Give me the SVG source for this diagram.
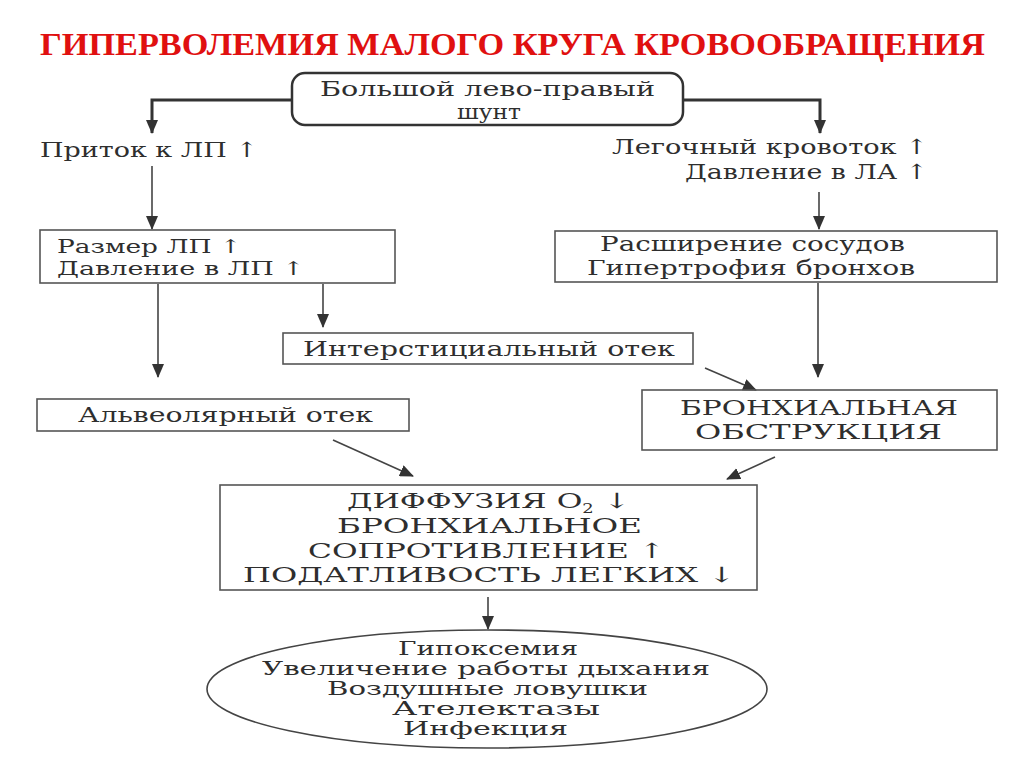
<svg xmlns="http://www.w3.org/2000/svg" width="1024" height="767" viewBox="0 0 1024 767">
<defs>
<marker id="ah" markerUnits="userSpaceOnUse" markerWidth="14" markerHeight="12" viewBox="0 0 14 12" refX="13" refY="6" orient="auto">
<path d="M0,0 L14,6 L0,12 Z" fill="#333"/>
</marker>
<style>
.t{font-family:"DejaVu Serif","Liberation Serif",serif;font-size:21px;fill:#2e2e2e;}
.s{font-family:"DejaVu Serif","Liberation Serif",serif;font-size:19px;fill:#2e2e2e;}
.c{font-family:"DejaVu Serif","Liberation Serif",serif;font-size:21px;fill:#2e2e2e;}
.e{font-family:"DejaVu Serif","Liberation Serif",serif;font-size:18px;fill:#2e2e2e;}
.box{fill:none;stroke:#555;stroke-width:1.6;}
.thick{fill:none;stroke:#333;stroke-width:3;}
.thin{fill:none;stroke:#444;stroke-width:1.6;}
</style>
</defs>
<rect width="1024" height="767" fill="#ffffff"/>
<text x="40" y="55" font-family="Liberation Serif, DejaVu Serif, serif" font-size="32" font-weight="bold" fill="#e01010" textLength="945" lengthAdjust="spacingAndGlyphs">ГИПЕРВОЛЕМИЯ МАЛОГО КРУГА КРОВООБРАЩЕНИЯ</text>

<g id="connectors">
<path class="thick" d="M292,100 H152 V133" marker-end="url(#ah)"/>
<path class="thick" d="M683,100 H820 V133" marker-end="url(#ah)"/>
<path class="thin" d="M152,166 V229" marker-end="url(#ah)"/>
<path class="thin" d="M819,192 V229" marker-end="url(#ah)"/>
<path class="thin" d="M158,284 V377" marker-end="url(#ah)"/>
<path class="thin" d="M323,284 V327" marker-end="url(#ah)"/>
<path class="thin" d="M818,283 V377" marker-end="url(#ah)"/>
<path class="thin" d="M705,368 L756,390" marker-end="url(#ah)"/>
<path class="thin" d="M333,440 L413,476" marker-end="url(#ah)"/>
<path class="thin" d="M775,457 L727,479" marker-end="url(#ah)"/>
<path class="thin" d="M488,597 V629" marker-end="url(#ah)"/>
</g>

<g id="shunt">
<rect x="292" y="73" width="391" height="52" rx="13" ry="13" fill="none" stroke="#333" stroke-width="2.5"/>
<text class="t" x="320" y="96" textLength="335" lengthAdjust="spacingAndGlyphs">Большой лево-правый</text>
<text class="t" x="457" y="119" textLength="64" lengthAdjust="spacingAndGlyphs">шунт</text>
</g>

<g id="pritok">
<text class="t" x="40" y="157" textLength="218" lengthAdjust="spacingAndGlyphs">Приток к ЛП ↑</text>
</g>

<g id="krovotok">
<text class="t" x="612" y="154" textLength="316" lengthAdjust="spacingAndGlyphs">Легочный кровоток ↑</text>
<text class="t" x="685" y="179" textLength="243" lengthAdjust="spacingAndGlyphs">Давление в ЛА ↑</text>
</g>

<g id="razmer">
<rect class="box" x="40" y="230" width="355" height="53"/>
<text class="s" x="57" y="253" textLength="185" lengthAdjust="spacingAndGlyphs">Размер ЛП ↑</text>
<text class="s" x="57" y="275" textLength="248" lengthAdjust="spacingAndGlyphs">Давление в ЛП ↑</text>
</g>

<g id="rasshirenie">
<rect class="box" x="555" y="231" width="442" height="51"/>
<text class="t" x="600" y="251" textLength="305" lengthAdjust="spacingAndGlyphs">Расширение сосудов</text>
<text class="t" x="587" y="275" textLength="328" lengthAdjust="spacingAndGlyphs">Гипертрофия бронхов</text>
</g>

<g id="interst">
<rect class="box" x="283" y="333" width="410" height="31"/>
<text class="t" x="303" y="356" textLength="372" lengthAdjust="spacingAndGlyphs">Интерстициальный отек</text>
</g>

<g id="alveol">
<rect class="box" x="37" y="399" width="372" height="32"/>
<text class="t" x="78" y="422" textLength="295" lengthAdjust="spacingAndGlyphs">Альвеолярный отек</text>
</g>

<g id="bronch">
<rect class="box" x="642" y="390" width="355" height="60"/>
<text class="c" x="680" y="415" textLength="278" lengthAdjust="spacingAndGlyphs">БРОНХИАЛЬНАЯ</text>
<text class="c" x="695" y="439" textLength="247" lengthAdjust="spacingAndGlyphs">ОБСТРУКЦИЯ</text>
</g>

<g id="diffuzia">
<rect class="box" x="220" y="485" width="537" height="105"/>
<text class="c" x="347" y="508" textLength="283" lengthAdjust="spacingAndGlyphs">ДИФФУЗИЯ О<tspan font-size="12" dy="5">2</tspan><tspan dy="-5"> ↓</tspan></text>
<text class="c" x="337" y="533" textLength="305" lengthAdjust="spacingAndGlyphs">БРОНХИАЛЬНОЕ</text>
<text class="c" x="308" y="558" textLength="357" lengthAdjust="spacingAndGlyphs">СОПРОТИВЛЕНИЕ ↑</text>
<text class="c" x="243" y="582" textLength="492" lengthAdjust="spacingAndGlyphs">ПОДАТЛИВОСТЬ ЛЕГКИХ ↓</text>
</g>

<g id="outcome">
<ellipse cx="487" cy="689" rx="280" ry="59" fill="none" stroke="#444" stroke-width="1.6"/>
<text class="e" x="398" y="655" textLength="180" lengthAdjust="spacingAndGlyphs">Гипоксемия</text>
<text class="e" x="262" y="675" textLength="448" lengthAdjust="spacingAndGlyphs">Увеличение работы дыхания</text>
<text class="e" x="327" y="695" textLength="321" lengthAdjust="spacingAndGlyphs">Воздушные ловушки</text>
<text class="e" x="392" y="715" textLength="208" lengthAdjust="spacingAndGlyphs">Ателектазы</text>
<text class="e" x="403" y="735" textLength="165" lengthAdjust="spacingAndGlyphs">Инфекция</text>
</g>
</svg>
